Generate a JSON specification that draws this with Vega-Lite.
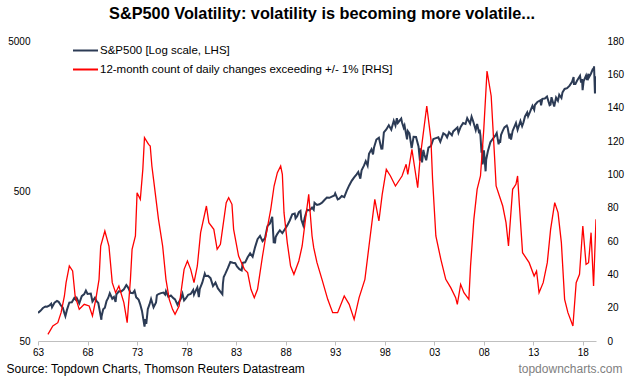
{
"$schema": "https://vega.github.io/schema/vega-lite/v6.json",
"width": 558, "height": 300,
"autosize": {"type": "none"},
"padding": {"left": 38, "top": 41, "right": 30, "bottom": 37},
"background": "white",
"config": {"font": "Liberation Sans", "view": {"stroke": null}},
"title": {"text": "S&P500 Volatility: volatility is becoming more volatile...", "fontSize": 16.3, "fontWeight": "bold", "color": "#000000", "anchor": "middle", "frame": "group", "dx": 5, "offset": 14},
"datasets": {
"spx": [
{"date":"1964-01-01","spx":77},{"date":"1964-04-01","spx":79.5},{"date":"1964-07-01","spx":83},{"date":"1964-10-01","spx":85},{"date":"1964-12-01","spx":84.7},
{"date":"1965-03-01","spx":86.2},{"date":"1965-05-01","spx":88.5},{"date":"1965-06-01","spx":84},{"date":"1965-09-01","spx":89.9},{"date":"1965-12-01","spx":92.4},
{"date":"1966-02-01","spx":91.2},{"date":"1966-05-01","spx":86},{"date":"1966-07-01","spx":83.6},{"date":"1966-09-01","spx":76.6},{"date":"1966-10-07","spx":73.2},{"date":"1966-12-01","spx":80.3},
{"date":"1967-03-01","spx":90.2},{"date":"1967-06-01","spx":90.6},{"date":"1967-09-01","spx":96.7},{"date":"1967-11-01","spx":94},{"date":"1967-12-01","spx":96.5},
{"date":"1968-03-01","spx":89},{"date":"1968-06-01","spx":99.6},{"date":"1968-09-01","spx":102.7},{"date":"1968-11-01","spx":108.4},
{"date":"1969-01-01","spx":103},{"date":"1969-05-01","spx":103.5},{"date":"1969-07-01","spx":91.8},{"date":"1969-10-01","spx":97},{"date":"1969-12-01","spx":92},
{"date":"1970-02-01","spx":89.5},{"date":"1970-05-26","spx":69.3},{"date":"1970-06-01","spx":72.7},{"date":"1970-08-01","spx":81.5},{"date":"1970-10-01","spx":83.3},{"date":"1970-12-01","spx":92.2},
{"date":"1971-02-01","spx":96.8},{"date":"1971-04-01","spx":104},{"date":"1971-07-01","spx":95.6},{"date":"1971-09-01","spx":98.3},{"date":"1971-11-01","spx":91},{"date":"1971-12-01","spx":102.1},
{"date":"1972-03-01","spx":107.2},{"date":"1972-06-01","spx":107.1},{"date":"1972-09-01","spx":110.5},{"date":"1972-12-01","spx":118.05},
{"date":"1973-01-01","spx":116},{"date":"1973-03-01","spx":111.5},{"date":"1973-05-01","spx":104.9},{"date":"1973-08-01","spx":104.3},{"date":"1973-10-01","spx":108.3},{"date":"1973-12-01","spx":97.6},
{"date":"1974-01-01","spx":96.6},{"date":"1974-03-01","spx":94},{"date":"1974-05-01","spx":87.3},{"date":"1974-07-01","spx":79.3},{"date":"1974-10-03","spx":62.3},{"date":"1974-11-01","spx":69.97},{"date":"1974-12-06","spx":65},
{"date":"1975-02-01","spx":81.6},{"date":"1975-04-01","spx":87.3},{"date":"1975-06-01","spx":95.2},{"date":"1975-09-01","spx":83.9},{"date":"1975-12-01","spx":90.2},
{"date":"1976-01-01","spx":100.9},{"date":"1976-03-01","spx":102.8},{"date":"1976-06-01","spx":104.3},{"date":"1976-09-01","spx":105.2},{"date":"1976-11-01","spx":102.1},{"date":"1976-12-01","spx":107.5},
{"date":"1977-03-01","spx":98.4},{"date":"1977-06-01","spx":100.5},{"date":"1977-09-01","spx":96.5},{"date":"1977-11-01","spx":94.8},{"date":"1978-02-01","spx":87},{"date":"1978-03-01","spx":89.2},
{"date":"1978-06-01","spx":95.5},{"date":"1978-08-01","spx":103.3},{"date":"1978-10-01","spx":93.2},{"date":"1978-12-01","spx":96.1},
{"date":"1979-03-01","spx":101.6},{"date":"1979-06-01","spx":102.9},{"date":"1979-09-01","spx":109.3},{"date":"1979-10-01","spx":101.8},{"date":"1979-12-01","spx":107.9},
{"date":"1980-02-01","spx":113.7},{"date":"1980-03-27","spx":98.2},{"date":"1980-05-01","spx":111.2},{"date":"1980-08-01","spx":122.4},{"date":"1980-11-01","spx":140.5},{"date":"1980-12-01","spx":135.8},
{"date":"1981-03-01","spx":136},{"date":"1981-06-01","spx":131.2},{"date":"1981-09-01","spx":116.2},{"date":"1981-12-01","spx":122.6},
{"date":"1982-03-01","spx":112},{"date":"1982-08-12","spx":102.4},{"date":"1982-09-01","spx":120.4},{"date":"1982-10-01","spx":133.7},{"date":"1982-12-01","spx":140.6},
{"date":"1983-03-01","spx":153},{"date":"1983-06-01","spx":168.1},{"date":"1983-09-01","spx":166.1},{"date":"1983-12-01","spx":164.9},
{"date":"1984-02-01","spx":157.1},{"date":"1984-05-01","spx":150.6},{"date":"1984-07-24","spx":147.8},{"date":"1984-09-01","spx":166.1},{"date":"1984-12-01","spx":167.2},
{"date":"1985-03-01","spx":180.7},{"date":"1985-06-01","spx":191.9},{"date":"1985-09-01","spx":182.1},{"date":"1985-12-01","spx":211.3},
{"date":"1986-03-01","spx":238.9},{"date":"1986-06-01","spx":250.8},{"date":"1986-09-01","spx":231.3},{"date":"1986-12-01","spx":242.2},
{"date":"1987-03-01","spx":291.7},{"date":"1987-06-01","spx":304},{"date":"1987-08-25","spx":336.8},{"date":"1987-09-01","spx":321.8},{"date":"1987-10-19","spx":224.8},{"date":"1987-11-01","spx":245},{"date":"1987-12-04","spx":223.9},{"date":"1987-12-31","spx":247.1},
{"date":"1988-03-01","spx":258.9},{"date":"1988-06-01","spx":273.5},{"date":"1988-09-01","spx":261.9},{"date":"1988-12-01","spx":277.7},
{"date":"1989-03-01","spx":294.9},{"date":"1989-06-01","spx":317.98},{"date":"1989-09-01","spx":349.2},{"date":"1989-12-01","spx":353.4},
{"date":"1990-01-01","spx":329.1},{"date":"1990-03-01","spx":339.9},{"date":"1990-05-01","spx":361.2},{"date":"1990-07-01","spx":368},{"date":"1990-08-01","spx":322.6},{"date":"1990-10-11","spx":295.5},{"date":"1990-12-01","spx":330.2},
{"date":"1991-03-01","spx":375.2},{"date":"1991-06-01","spx":371.2},{"date":"1991-09-01","spx":387.9},{"date":"1991-11-01","spx":375.2},{"date":"1991-12-01","spx":417.1},
{"date":"1992-03-01","spx":403.7},{"date":"1992-06-01","spx":408.1},{"date":"1992-09-01","spx":417.8},{"date":"1992-12-01","spx":435.7},
{"date":"1993-03-01","spx":451.7},{"date":"1993-06-01","spx":450.5},{"date":"1993-09-01","spx":458.9},{"date":"1993-12-01","spx":466.5},
{"date":"1994-01-01","spx":481.6},{"date":"1994-04-04","spx":438.9},{"date":"1994-06-01","spx":444.3},{"date":"1994-09-01","spx":462.7},{"date":"1994-12-01","spx":455},
{"date":"1995-03-01","spx":500.7},{"date":"1995-06-01","spx":544.8},{"date":"1995-09-01","spx":584.4},{"date":"1995-12-01","spx":615.9},
{"date":"1996-03-01","spx":645.5},{"date":"1996-05-01","spx":669.1},{"date":"1996-07-16","spx":605},{"date":"1996-09-01","spx":687.3},{"date":"1996-12-01","spx":740.7},
{"date":"1997-02-01","spx":790.8},{"date":"1997-04-11","spx":737.7},{"date":"1997-06-01","spx":885.1},{"date":"1997-09-01","spx":947.3},{"date":"1997-10-27","spx":876.9},{"date":"1997-12-01","spx":970.4},
{"date":"1998-03-01","spx":1101.8},{"date":"1998-06-01","spx":1133.8},{"date":"1998-08-31","spx":957.3},{"date":"1998-10-08","spx":959.4},{"date":"1998-12-01","spx":1229.2},
{"date":"1999-03-01","spx":1286.4},{"date":"1999-06-01","spx":1372.7},{"date":"1999-09-01","spx":1282.7},{"date":"1999-12-01","spx":1469.25},
{"date":"2000-02-01","spx":1366.4},{"date":"2000-03-24","spx":1527.5},{"date":"2000-05-01","spx":1420.6},{"date":"2000-09-01","spx":1517.7},{"date":"2000-10-01","spx":1429.4},{"date":"2000-12-01","spx":1320.3},
{"date":"2001-01-01","spx":1366},{"date":"2001-04-04","spx":1103.3},{"date":"2001-05-01","spx":1255.8},{"date":"2001-07-01","spx":1211.2},{"date":"2001-09-21","spx":965.8},{"date":"2001-12-01","spx":1148.1},
{"date":"2002-03-01","spx":1147.4},{"date":"2002-06-01","spx":989.8},{"date":"2002-07-23","spx":797.7},{"date":"2002-08-22","spx":962.7},{"date":"2002-10-09","spx":776.8},{"date":"2002-11-27","spx":938.9},{"date":"2002-12-31","spx":879.8},
{"date":"2003-03-11","spx":800.7},{"date":"2003-06-01","spx":974.5},{"date":"2003-09-01","spx":996},{"date":"2003-12-01","spx":1111.9},
{"date":"2004-03-01","spx":1126.2},{"date":"2004-06-01","spx":1140.8},{"date":"2004-08-12","spx":1063.2},{"date":"2004-12-01","spx":1211.9},
{"date":"2005-03-01","spx":1180.6},{"date":"2005-04-20","spx":1137.5},{"date":"2005-07-01","spx":1234.2},{"date":"2005-10-13","spx":1176.8},{"date":"2005-12-01","spx":1248.3},
{"date":"2006-05-05","spx":1325.8},{"date":"2006-06-13","spx":1223.7},{"date":"2006-09-01","spx":1335.9},{"date":"2006-12-01","spx":1418.3},
{"date":"2007-02-27","spx":1399},{"date":"2007-05-01","spx":1530.6},{"date":"2007-08-15","spx":1406.7},{"date":"2007-10-09","spx":1565.2},{"date":"2007-12-01","spx":1468.4},
{"date":"2008-03-10","spx":1273.4},{"date":"2008-05-01","spx":1400.4},{"date":"2008-07-15","spx":1214.9},{"date":"2008-08-01","spx":1282.8},{"date":"2008-09-01","spx":1166.4},{"date":"2008-10-10","spx":899.2},{"date":"2008-11-04","spx":1005.8},{"date":"2008-11-20","spx":752.4},{"date":"2009-01-06","spx":934.7},
{"date":"2009-03-09","spx":676.5},{"date":"2009-04-01","spx":811},{"date":"2009-06-01","spx":919.3},{"date":"2009-09-01","spx":1057.1},{"date":"2009-12-01","spx":1115.1},
{"date":"2010-03-01","spx":1169.4},{"date":"2010-04-23","spx":1217.3},{"date":"2010-07-02","spx":1022.6},{"date":"2010-08-01","spx":1101.6},{"date":"2010-08-26","spx":1047.2},{"date":"2010-10-01","spx":1183.3},{"date":"2010-12-01","spx":1257.6},
{"date":"2011-02-01","spx":1327.2},{"date":"2011-04-29","spx":1363.6},{"date":"2011-06-01","spx":1320.6},{"date":"2011-08-08","spx":1119.5},{"date":"2011-09-01","spx":1204},{"date":"2011-10-03","spx":1099.2},{"date":"2011-12-01","spx":1257.6},
{"date":"2012-04-02","spx":1419},{"date":"2012-06-01","spx":1278},{"date":"2012-09-14","spx":1465.8},{"date":"2012-11-15","spx":1353.3},{"date":"2012-12-31","spx":1426.2},
{"date":"2013-03-01","spx":1569.2},{"date":"2013-05-21","spx":1669.2},{"date":"2013-06-24","spx":1573.1},{"date":"2013-09-01","spx":1681.6},{"date":"2013-12-01","spx":1848.4},
{"date":"2014-02-03","spx":1741.9},{"date":"2014-03-01","spx":1872.3},{"date":"2014-06-01","spx":1960.2},{"date":"2014-09-18","spx":2011.4},{"date":"2014-10-15","spx":1862.5},{"date":"2014-12-01","spx":2058.9},
{"date":"2015-03-01","spx":2067.9},{"date":"2015-05-21","spx":2130.8},{"date":"2015-08-25","spx":1867.6},{"date":"2015-09-29","spx":1884.1},{"date":"2015-11-03","spx":2109.8},{"date":"2016-02-11","spx":1829.1},
{"date":"2016-04-20","spx":2102.4},{"date":"2016-06-27","spx":2000.5},{"date":"2016-08-15","spx":2190.2},{"date":"2016-11-04","spx":2085.2},{"date":"2016-12-13","spx":2271.7},
{"date":"2017-03-01","spx":2395.96},{"date":"2017-06-01","spx":2423.4},{"date":"2017-09-01","spx":2519.4},{"date":"2017-12-01","spx":2673.6},
{"date":"2018-01-26","spx":2872.9},{"date":"2018-02-08","spx":2581},{"date":"2018-04-02","spx":2581.9},{"date":"2018-06-01","spx":2718.4},{"date":"2018-09-20","spx":2930.8},{"date":"2018-10-29","spx":2641.3},{"date":"2018-12-03","spx":2790.4},{"date":"2018-12-24","spx":2351.1},
{"date":"2019-02-01","spx":2706.5},{"date":"2019-04-30","spx":2945.8},{"date":"2019-06-03","spx":2744.5},{"date":"2019-07-26","spx":3025.9},{"date":"2019-08-05","spx":2844.7},{"date":"2019-10-31","spx":3037.6},{"date":"2019-12-31","spx":3230.8},
{"date":"2020-01-31","spx":3225.5},{"date":"2020-02-19","spx":3386.2},{"date":"2020-03-23","spx":2237.4},{"date":"2020-04-14","spx":2846},{"date":"2020-04-30","spx":2912.4}
],
"vol": [
{"date":"1965-01-01","count":4},{"date":"1965-07-01","count":9},{"date":"1966-01-01","count":11},{"date":"1966-05-01","count":17},{"date":"1966-09-01","count":27},{"date":"1966-11-01","count":35},
{"date":"1967-03-01","count":45},{"date":"1967-07-01","count":42},{"date":"1967-10-01","count":27},{"date":"1968-03-01","count":19},{"date":"1968-09-01","count":22},{"date":"1969-03-01","count":21},
{"date":"1969-07-01","count":15},{"date":"1969-11-01","count":25},{"date":"1970-03-01","count":37},{"date":"1970-05-01","count":57},{"date":"1970-10-01","count":66},{"date":"1971-03-01","count":57},
{"date":"1971-07-01","count":35},{"date":"1971-11-01","count":29},{"date":"1972-03-01","count":33},{"date":"1972-09-01","count":23},{"date":"1973-01-01","count":11},{"date":"1973-05-01","count":37},
{"date":"1973-07-01","count":55},{"date":"1973-11-01","count":63},{"date":"1974-01-01","count":89},{"date":"1974-05-01","count":85},{"date":"1974-08-01","count":103},{"date":"1974-10-01","count":122},
{"date":"1975-03-01","count":118},{"date":"1975-05-01","count":117},{"date":"1975-07-01","count":105},{"date":"1975-09-01","count":97},{"date":"1976-03-01","count":73},{"date":"1976-08-01","count":57},
{"date":"1976-12-01","count":37},{"date":"1977-04-01","count":25},{"date":"1977-08-01","count":19},{"date":"1977-11-01","count":16},{"date":"1978-04-01","count":21},{"date":"1978-10-01","count":43},
{"date":"1979-02-01","count":48},{"date":"1979-06-01","count":43},{"date":"1979-10-01","count":35},{"date":"1980-02-01","count":45},{"date":"1980-06-01","count":65},{"date":"1981-01-01","count":81},
{"date":"1981-04-01","count":71},{"date":"1981-10-01","count":67},{"date":"1982-02-01","count":55},{"date":"1982-06-01","count":58},{"date":"1983-01-01","count":83},{"date":"1983-04-01","count":86},
{"date":"1983-08-01","count":82},{"date":"1983-10-01","count":67},{"date":"1984-04-01","count":51},{"date":"1984-11-01","count":43},{"date":"1985-03-01","count":41},{"date":"1985-07-01","count":31},
{"date":"1985-11-01","count":26},{"date":"1986-03-01","count":31},{"date":"1986-09-01","count":51},{"date":"1987-01-01","count":63},{"date":"1987-07-01","count":79},{"date":"1987-11-01","count":93},
{"date":"1988-03-01","count":101},{"date":"1988-07-01","count":105},{"date":"1988-09-01","count":100},{"date":"1988-11-01","count":77},{"date":"1989-03-01","count":59},{"date":"1989-07-01","count":45},
{"date":"1989-11-01","count":40},{"date":"1990-05-01","count":48},{"date":"1990-09-01","count":57},{"date":"1991-01-01","count":73},{"date":"1991-05-01","count":88},{"date":"1991-09-01","count":63},
{"date":"1991-11-01","count":56},{"date":"1992-03-01","count":47},{"date":"1992-09-01","count":37},{"date":"1993-04-01","count":25},{"date":"1993-10-01","count":17},{"date":"1994-04-01","count":17},
{"date":"1994-12-01","count":27},{"date":"1995-06-01","count":22},{"date":"1995-12-01","count":13},{"date":"1996-06-01","count":26},{"date":"1997-01-01","count":37},{"date":"1997-06-01","count":57},
{"date":"1998-01-01","count":85},{"date":"1998-06-01","count":72},{"date":"1998-10-01","count":88},{"date":"1999-03-01","count":103},{"date":"1999-08-01","count":99},{"date":"2000-02-01","count":93},
{"date":"2000-10-01","count":99},{"date":"2001-03-01","count":106},{"date":"2001-05-01","count":100},{"date":"2001-10-01","count":115},{"date":"2002-01-01","count":105},{"date":"2002-05-01","count":92},
{"date":"2002-08-01","count":110},{"date":"2003-04-01","count":141},{"date":"2003-09-01","count":121},{"date":"2003-11-01","count":97},{"date":"2004-03-01","count":63},{"date":"2004-09-01","count":49},
{"date":"2005-03-01","count":37},{"date":"2005-09-01","count":32},{"date":"2006-03-01","count":26},{"date":"2006-05-01","count":22},{"date":"2006-09-01","count":34},{"date":"2007-01-01","count":29},
{"date":"2007-07-01","count":25},{"date":"2007-09-01","count":45},{"date":"2008-01-01","count":73},{"date":"2008-05-01","count":91},{"date":"2008-09-01","count":99},{"date":"2009-01-01","count":127},
{"date":"2009-05-01","count":162},{"date":"2009-10-01","count":147},{"date":"2010-02-01","count":111},{"date":"2010-04-01","count":93},{"date":"2010-08-01","count":87},{"date":"2010-12-01","count":81},
{"date":"2011-04-01","count":71},{"date":"2011-07-01","count":57},{"date":"2011-12-01","count":91},{"date":"2012-04-01","count":94},{"date":"2012-06-01","count":99},{"date":"2012-08-01","count":83},
{"date":"2012-12-01","count":53},{"date":"2013-08-01","count":47},{"date":"2014-02-01","count":39},{"date":"2014-05-01","count":42},{"date":"2014-08-01","count":29},{"date":"2015-01-01","count":35},
{"date":"2015-06-01","count":47},{"date":"2015-10-01","count":67},{"date":"2016-03-01","count":83},{"date":"2016-07-01","count":77},{"date":"2016-11-01","count":59},{"date":"2017-03-01","count":25},
{"date":"2017-07-01","count":17},{"date":"2018-01-01","count":9},{"date":"2018-05-01","count":35},{"date":"2018-09-01","count":40},{"date":"2019-01-01","count":69},{"date":"2019-05-01","count":46},
{"date":"2019-08-01","count":47},{"date":"2019-11-01","count":65},{"date":"2020-02-01","count":33},{"date":"2020-05-01","count":73}
]
},
"layer": [
{
"data": {"name": "spx"},
"mark": {"type": "line", "strokeWidth": 2, "clip": true},
"encoding": {
"x": {"field": "date", "type": "temporal", "scale": {"domain": [{"year": 1964, "month": 1, "date": 1}, {"year": 2020, "month": 5, "date": 1}]},
 "axis": {"title": null, "values": [{"year": 1964, "month": 1, "date": 1}, {"year": 1969, "month": 1, "date": 1}, {"year": 1974, "month": 1, "date": 1}, {"year": 1979, "month": 1, "date": 1}, {"year": 1984, "month": 1, "date": 1}, {"year": 1989, "month": 1, "date": 1}, {"year": 1994, "month": 1, "date": 1}, {"year": 1999, "month": 1, "date": 1}, {"year": 2004, "month": 1, "date": 1}, {"year": 2009, "month": 1, "date": 1}, {"year": 2014, "month": 1, "date": 1}, {"year": 2019, "month": 1, "date": 1}],
  "labelExpr": "slice(toString(year(datum.value) - 1), 2)", "grid": false, "domainColor": "#bfbfbf", "tickColor": "#bfbfbf", "tickSize": 4, "labelFontSize": 10, "labelColor": "#000000", "labelPadding": 2, "labelFlush": false, "labelOverlap": false}},
"y": {"field": "spx", "type": "quantitative", "scale": {"type": "log", "domain": [50, 5000]},
 "axis": {"orient": "left", "values": [50, 500, 5000], "format": "d", "grid": false, "domain": false, "ticks": false, "tickSize": 0, "labelPadding": 8, "labelFontSize": 10, "labelColor": "#000000",
  "title": "Source: Topdown Charts, Thomson Reuters Datastream", "titleAngle": 0, "titleX": -32, "titleY": 331, "titleAlign": "left", "titleBaseline": "alphabetic", "titleFontSize": 12, "titleFontWeight": "normal", "titleColor": "#000000"}},
"color": {"datum": "S&P500 [Log scale, LHS]", "type": "nominal",
 "scale": {"domain": ["S&P500 [Log scale, LHS]", "12-month count of daily changes exceeding +/- 1% [RHS]"], "range": ["#2c3b55", "#ff0000"]},
 "legend": {"title": null, "orient": "none", "legendX": 34, "legendY": -4, "symbolType": "stroke", "symbolSize": 625, "symbolStrokeWidth": 2, "labelFontSize": 11.5, "labelColor": "#000000", "labelLimit": 500, "labelOffset": 1, "rowPadding": 0}}
}
},
{
"data": {"name": "vol"},
"mark": {"type": "line", "strokeWidth": 1.3, "clip": true},
"encoding": {
"x": {"field": "date", "type": "temporal"},
"y": {"field": "count", "type": "quantitative", "scale": {"domain": [0, 180]},
 "axis": {"orient": "right", "values": [0, 20, 40, 60, 80, 100, 120, 140, 160, 180], "grid": false, "domain": false, "ticks": false, "tickSize": 0, "labelPadding": 11, "labelFontSize": 10, "labelColor": "#000000",
  "title": "topdowncharts.com", "titleAngle": 0, "titleX": 26, "titleY": 331, "titleAlign": "right", "titleBaseline": "alphabetic", "titleFontSize": 12, "titleFontWeight": "normal", "titleColor": "#808080"}},
"color": {"datum": "12-month count of daily changes exceeding +/- 1% [RHS]", "type": "nominal"}
}
}
],
"resolve": {"scale": {"y": "independent"}}
}
